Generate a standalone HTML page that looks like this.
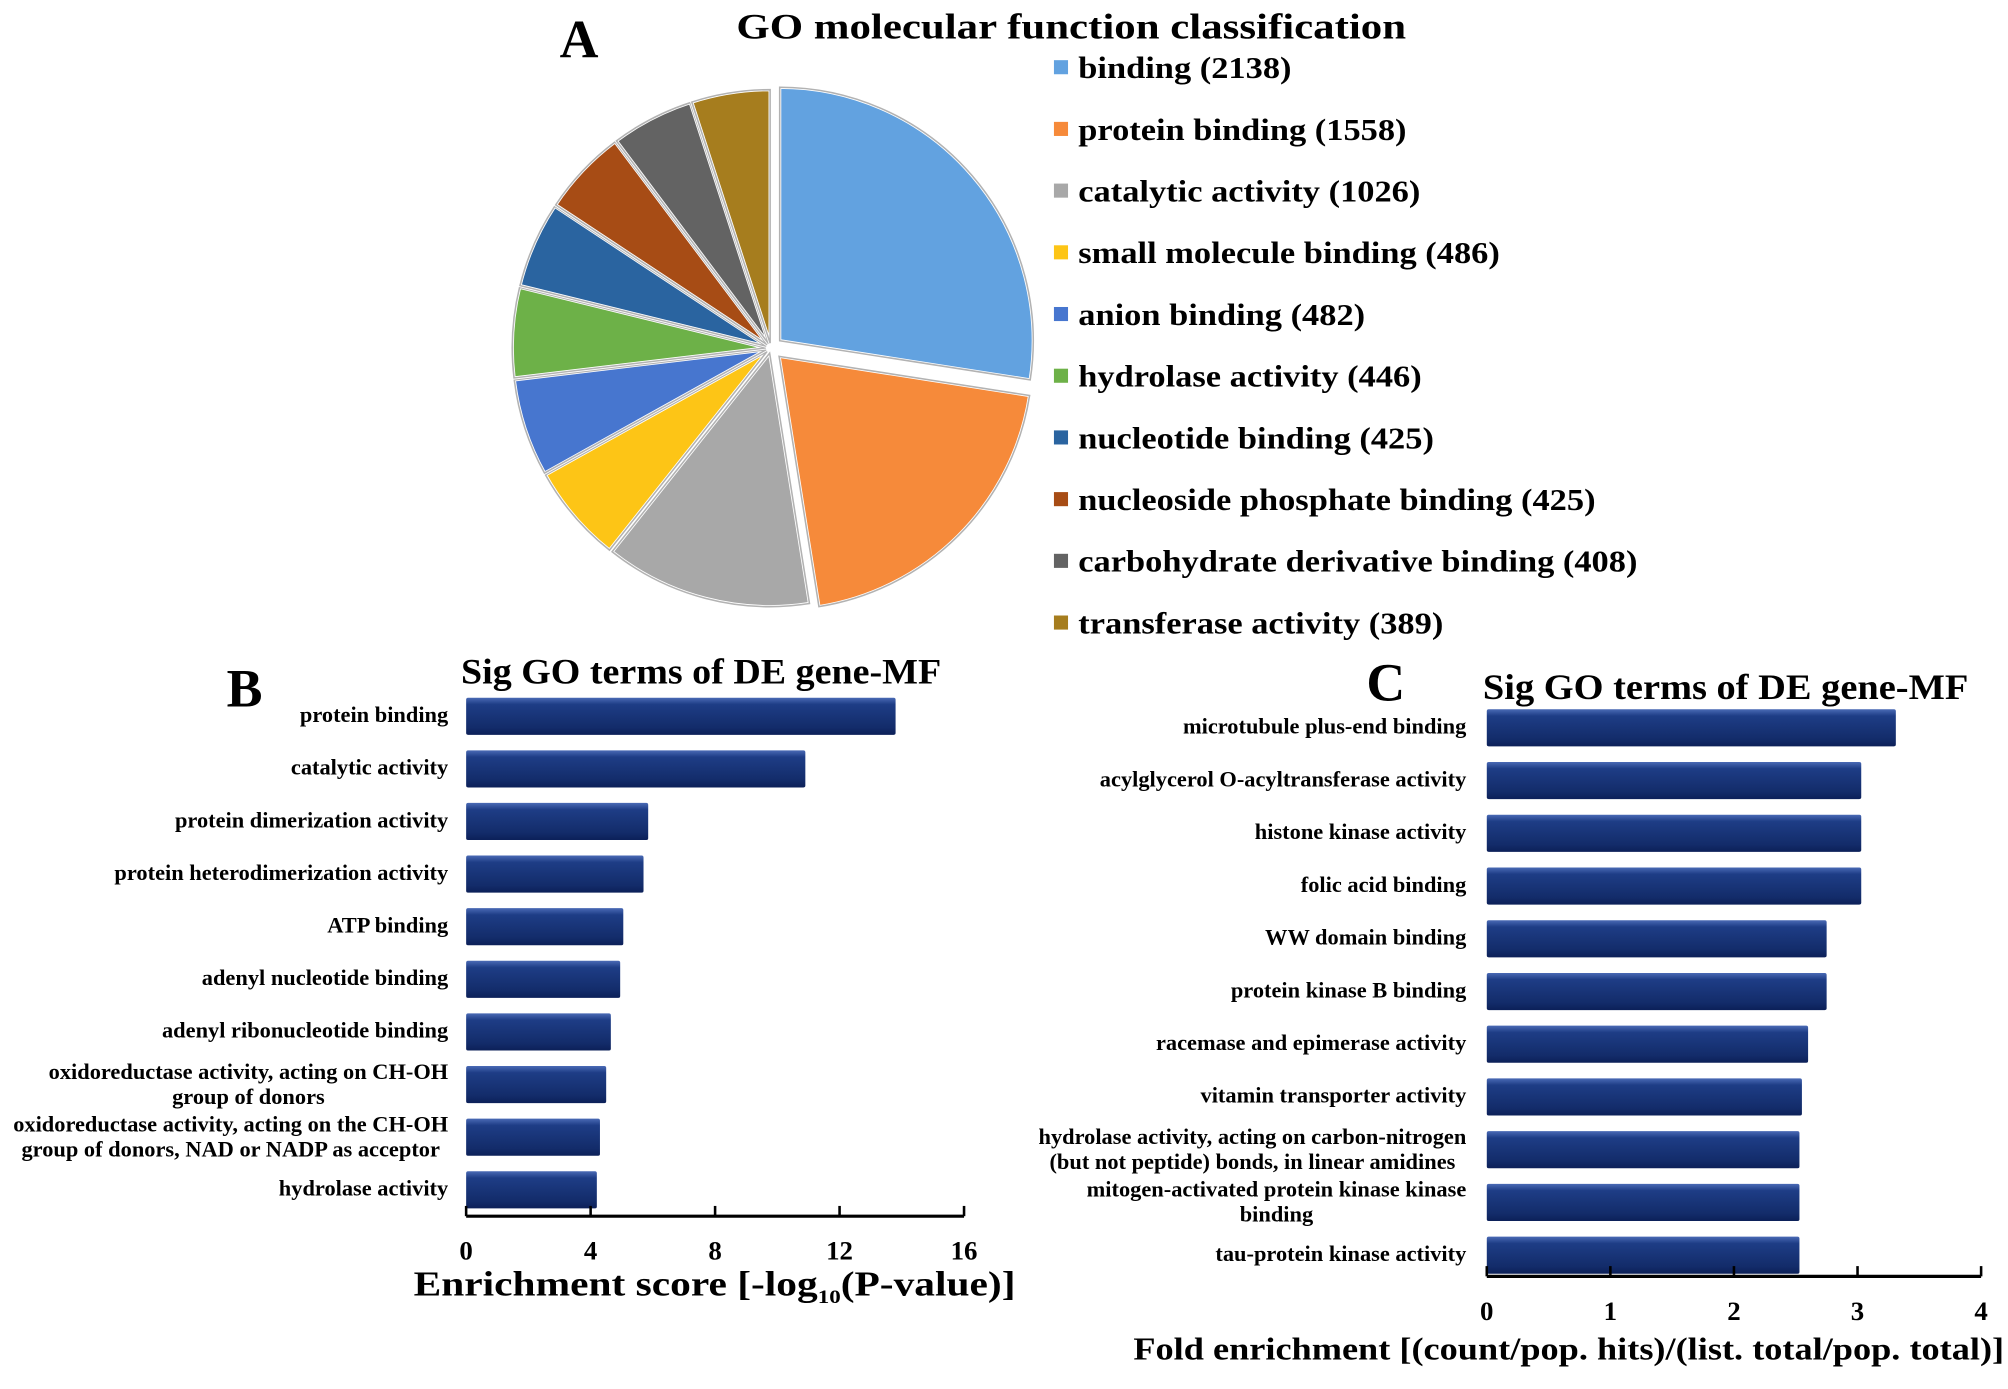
<!DOCTYPE html>
<html><head><meta charset="utf-8"><style>
html,body{margin:0;padding:0;background:#fff;}
svg{display:block;font-family:"Liberation Serif",serif;font-weight:bold;}
</style></head><body>
<svg id="fig" width="2008" height="1389" viewBox="0 0 1568 1085" preserveAspectRatio="none" xmlns="http://www.w3.org/2000/svg">
<defs>
<linearGradient id="barg" x1="0" y1="0" x2="0" y2="1">
<stop offset="0" stop-color="#4a6ab5"/><stop offset="0.18" stop-color="#1e3d86"/><stop offset="0.8" stop-color="#132c6a"/><stop offset="1" stop-color="#0c2058"/>
</linearGradient>
</defs>
<text x="437" y="45" font-size="42">A</text>
<text x="575" y="30" font-size="28" textLength="523" lengthAdjust="spacingAndGlyphs">GO molecular function classification</text>
<g id="pie"></g>
<g id="legend"></g>
<text x="177" y="552" font-size="42">B</text>
<text x="360" y="534" font-size="28" textLength="375" lengthAdjust="spacingAndGlyphs">Sig GO terms of DE gene-MF</text>
<g id="chartB"></g>
<text x="323" y="1012" font-size="27" textLength="470" lengthAdjust="spacingAndGlyphs">Enrichment score [-log<tspan font-size="15" dy="6">10</tspan><tspan dy="-6">(P-value)]</tspan></text>
<text x="1067" y="547" font-size="42">C</text>
<text x="1158" y="546" font-size="28" textLength="379" lengthAdjust="spacingAndGlyphs">Sig GO terms of DE gene-MF</text>
<g id="chartC"></g>
<text x="885" y="1062" font-size="25" textLength="680" lengthAdjust="spacingAndGlyphs">Fold enrichment [(count/pop. hits)/(list. total/pop. total)]</text>
</svg>
<script>
const pieLabels=["binding","protein binding","catalytic activity","small molecule binding","anion binding","hydrolase activity","nucleotide binding","nucleoside phosphate binding","carbohydrate derivative binding","transferase activity"];
const pieValues=[2138,1558,1026,486,482,446,425,425,408,389];
const pieColors=["#62a2e0","#f68a3a","#a8a8a8","#fdc516","#4776cf","#6db148","#2a64a0","#a74c15","#636363","#a67d1e"];

const bLabels=[["protein binding"],["catalytic activity"],["protein dimerization activity"],["protein heterodimerization activity"],["ATP binding"],["adenyl nucleotide binding"],["adenyl ribonucleotide binding"],["oxidoreductase activity, acting on CH-OH","group of donors"],["oxidoreductase activity, acting on the CH-OH","group of donors, NAD or NADP as acceptor"],["hydrolase activity"]];
const bValues=[13.8,10.9,5.85,5.7,5.05,4.95,4.65,4.5,4.3,4.2];
const bTicks=[0,4,8,12,16];

const cLabels=[["microtubule plus-end binding"],["acylglycerol O-acyltransferase activity"],["histone kinase activity"],["folic acid binding"],["WW domain binding"],["protein kinase B binding"],["racemase and epimerase activity"],["vitamin transporter activity"],["hydrolase activity, acting on carbon-nitrogen","(but not peptide) bonds, in linear amidines"],["mitogen-activated protein kinase kinase","binding"],["tau-protein kinase activity"]];
const cValues=[3.31,3.03,3.03,3.03,2.75,2.75,2.6,2.55,2.53,2.53,2.53];
const cTicks=[0,1,2,3,4];

const NS="http://www.w3.org/2000/svg";
function mk(tag,attrs,parent){const e=document.createElementNS(NS,tag);for(const k in attrs)e.setAttribute(k,attrs[k]);parent.appendChild(e);return e;}

(function(){
const g=document.getElementById('pie');
const cx=602,cy=272,r=198;
const total=pieValues.reduce((a,b)=>a+b,0);
let a0=-Math.PI/2;
pieValues.forEach((v,i)=>{
 const a1=a0+v/total*2*Math.PI;
 const mid=(a0+a1)/2;
 const off=i<2?9:4;
 const ox=cx+off*Math.cos(mid),oy=cy+off*Math.sin(mid);
 const x0=ox+r*Math.cos(a0),y0=oy+r*Math.sin(a0),x1=ox+r*Math.cos(a1),y1=oy+r*Math.sin(a1);
 const large=(a1-a0)>Math.PI?1:0;
 const d=`M${ox},${oy} L${x0},${y0} A${r},${r} 0 ${large} 1 ${x1},${y1} Z`;
 const p=mk('path',{d:d,fill:pieColors[i],stroke:'#ffffff','stroke-width':2.5},g);
 
 
 const q=mk('path',{d:d,fill:'none',stroke:'rgba(0,0,0,0.3)','stroke-width':1.2},g);
 
 
 a0=a1;
});
const lg=document.getElementById('legend');
pieValues.forEach((v,i)=>{
 const y=53+i*48.2;
 const s=mk('rect',{x:823,y:y-6,width:11,height:11,fill:pieColors[i]},lg);
 
 
 const t=mk('text',{x:842,y:y+8,'font-size':24},lg);
 t.textContent=pieLabels[i]+' ('+v+')';
 
 
 const w=t.getComputedTextLength();
 if(w>0){t.setAttribute('textLength',w*1.12);t.setAttribute('lengthAdjust','spacingAndGlyphs');}
});
})();

function barChart(id,labels,values,ticks,x0,pxPer,c0,step,axisY,labelX,tickFs){
 const g=document.getElementById(id);
 const sx=v=>x0+v*pxPer;
 values.forEach((v,i)=>{
  const cy=c0+i*step;
  const b=mk('rect',{x:sx(0),y:cy-14,width:sx(v)-sx(0),height:29,fill:'url(#barg)',rx:1.5},g);
  
  
  const lines=labels[i];
  let w0=0;
  lines.forEach((ln,j)=>{
   const yy=lines.length===1?cy+5:cy-4+j*19.5;
   const t=mk('text',{x:labelX,y:yy,'font-size':17.5,'text-anchor':'end'},g);
   t.textContent=ln;
   
   
   if(j===0){w0=t.getComputedTextLength();}
   else{t.setAttribute('text-anchor','middle');t.setAttribute('x',labelX-w0/2);}
  });
 });
 const ax=mk('line',{x1:sx(ticks[0]),y1:axisY,x2:sx(ticks[ticks.length-1]),y2:axisY,stroke:'#000','stroke-width':2.5},g);
 
 
 ticks.forEach(tv=>{
  const tk=mk('line',{x1:sx(tv),y1:axisY-8,x2:sx(tv),y2:axisY,stroke:'#000','stroke-width':2},g);
  
  
  const tl=mk('text',{x:sx(tv),y:axisY+34,'font-size':tickFs,'text-anchor':'middle'},g);
  tl.textContent=tv;
  
  
 });
}
barChart('chartB',bLabels,bValues,bTicks,364,24.3,559,41.1,950,350,21);
barChart('chartC',cLabels,cValues,cTicks,1161,96.5,568,41.2,997,1145,21);
</script>
</body></html>
